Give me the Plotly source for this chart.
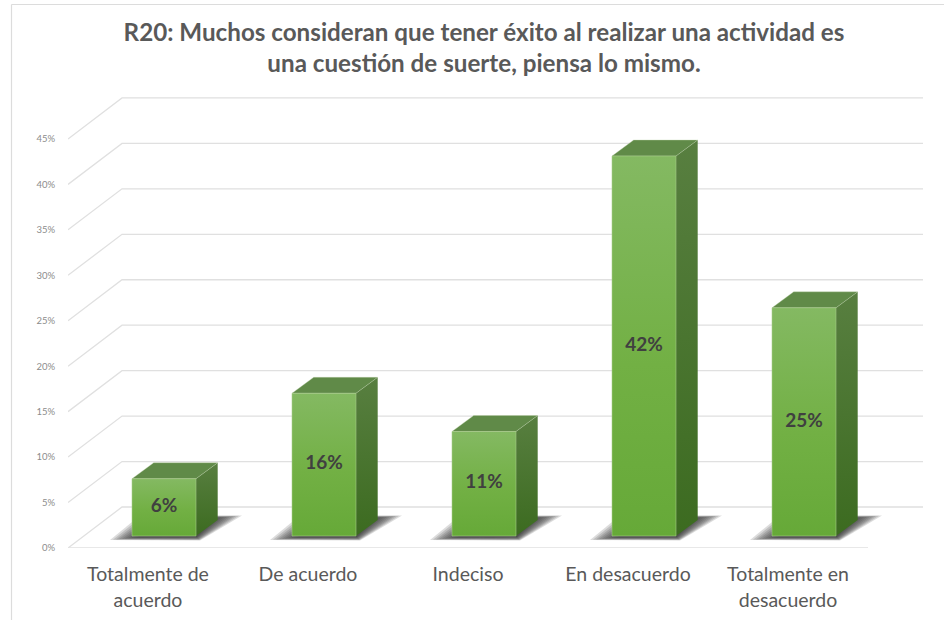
import plotly.graph_objects as go

categories = ["Totalmente de<br>acuerdo", "De acuerdo", "Indeciso", "En desacuerdo", "Totalmente en<br>desacuerdo"]
values = [6.3, 15.7, 11.5, 41.8, 25.1]
value_labels = ["6%", "16%", "11%", "42%", "25%"]
y_ticks = [0, 5, 10, 15, 20, 25, 30, 35, 40, 45]
title_lines = ["R20: Muchos consideran que tener éxito al realizar una actividad es",
               "una cuestión de suerte, piensa lo mismo."]

W, H = 944, 620
L, R, T, B = 68, 923, 97, 548
PX_X = 160.0            # px per category
PX_Y = 9.09             # px per percent
XMIN = -0.5
XMAX = XMIN + (R - L) / PX_X
YMAX = (B - T) / PX_Y
dx = lambda p: p / PX_X
dy = lambda p: p / PX_Y

BAR_SHIFT = dx(16)
BAR_W = dx(64)
BASE = dy(12)
DEPTH_X, DEPTH_Y = dx(21.7), dy(16)
WALL_X, WALL_Y = dx(54), dy(41)
GRID = "#e0e0e0"

fig = go.Figure()

def poly(xs, ys, **kw):
    fig.add_trace(go.Scatter(x=xs + xs[:1], y=ys + ys[:1], mode="lines", fill="toself",
                             hoverinfo="skip", showlegend=False, **kw))

# walls and floor grid
for t in y_ticks:
    fig.add_trace(go.Scatter(x=[XMIN, XMIN + WALL_X, XMAX], y=[t, t + WALL_Y, t + WALL_Y],
                             mode="lines", line=dict(color=GRID, width=1.3),
                             hoverinfo="skip", showlegend=False))
fig.add_trace(go.Scatter(x=[XMIN, XMAX - dx(55)], y=[0, 0], mode="lines",
                         line=dict(color=GRID, width=1.3), hoverinfo="skip", showlegend=False))

# shadows (soft edge by stacking translucent shapes)
for i in range(len(values)):
    x0 = i + BAR_SHIFT - BAR_W / 2
    x1 = x0 + BAR_W
    for k in range(10):
        poly([x0 + dx(-22 + k * 3.0), x1 + dx(4 - k * 0.4), x1 + dx(46 - k * 3.0), x0 + dx(8 + k * 3)],
             [BASE - dy(4 - k * 0.3), BASE - dy(4.5 - k * 0.4), BASE + dy(20.5 - k * 0.3), BASE + dy(20.5 - k * 0.3)],
             line=dict(width=0), fillcolor="rgba(45,45,45,0.17)")

# bars
for i, v in enumerate(values):
    x0 = i + BAR_SHIFT - BAR_W / 2
    x1 = x0 + BAR_W
    top = BASE + v
    poly([x1, x1 + DEPTH_X, x1 + DEPTH_X, x1], [BASE, BASE + DEPTH_Y, top + DEPTH_Y, top],
         line=dict(width=0), fillcolor="#4c7a30",
         fillgradient=dict(type="vertical", start=top + DEPTH_Y, stop=BASE,
                           colorscale=[[0, "#587f40"], [1, "#3c6b20"]]))
    poly([x0, x1, x1 + DEPTH_X, x0 + DEPTH_X], [top, top, top + DEPTH_Y, top + DEPTH_Y],
         line=dict(width=0.6, color="rgba(190,210,170,0.6)"), fillcolor="#608a48")
    poly([x0, x1, x1, x0], [BASE, BASE, top, top],
         line=dict(width=0.8, color="rgba(170,205,140,0.7)"), fillcolor="#72b04a",
         fillgradient=dict(type="vertical", start=top, stop=BASE,
                           colorscale=[[0, "#84b962"], [0.55, "#72b044"], [1, "#66a938"]]))

fig.add_trace(go.Scatter(
    x=[i + BAR_SHIFT for i in range(len(values))],
    y=[BASE + v / 2 for v in values],
    mode="text", text=value_labels, textposition="middle center",
    textfont=dict(family="Lato", size=19, color="#404040", weight="bold"),
    hoverinfo="skip", showlegend=False))

fig.update_layout(
    width=W, height=H, autosize=False,
    margin=dict(l=L, r=W - R, t=T, b=H - B, pad=0),
    paper_bgcolor="white", plot_bgcolor="white", showlegend=False,
    title=dict(text="<br>".join(title_lines), x=484 / W, xanchor="center", xref="container",
               y=1 - 41 / H, yanchor="middle", yref="container", automargin=False,
               font=dict(family="Lato", size=24.2, color="#595959", weight="bold")),
    xaxis=dict(range=[XMIN, XMAX], tickmode="array", tickvals=list(range(len(categories))),
               ticktext=categories, showgrid=False, zeroline=False, showline=False,
               automargin=False,
               ticks="outside", ticklen=9, tickcolor="rgba(0,0,0,0)",
               tickfont=dict(family="Lato", size=19.5, color="#595959")),
    yaxis=dict(range=[0, YMAX], tickmode="array", tickvals=y_ticks,
               ticktext=[f"{t}%" for t in y_ticks], showgrid=False, zeroline=False, showline=False,
               automargin=False,
               ticks="outside", ticklen=10, tickcolor="rgba(0,0,0,0)",
               tickfont=dict(family="Lato", size=9.5, color="#8c8c8c")),
    shapes=[
        dict(type="line", xref="paper", yref="paper", layer="below",
             x0=(11.5 - L) / (R - L), x1=(11.5 - L) / (R - L), y0=(B - H) / (B - T), y1=(B - 4.5) / (B - T),
             line=dict(color="#dcdcdc", width=1.2)),
        dict(type="line", xref="paper", yref="paper", layer="below",
             x0=(11.5 - L) / (R - L), x1=(W - L) / (R - L), y0=(B - 4.5) / (B - T), y1=(B - 4.5) / (B - T),
             line=dict(color="#dcdcdc", width=1.2)),
    ],
)

fig.write_html("out.html", config=dict(displayModeBar=False),
               post_script="document.body.style.margin='0';")
